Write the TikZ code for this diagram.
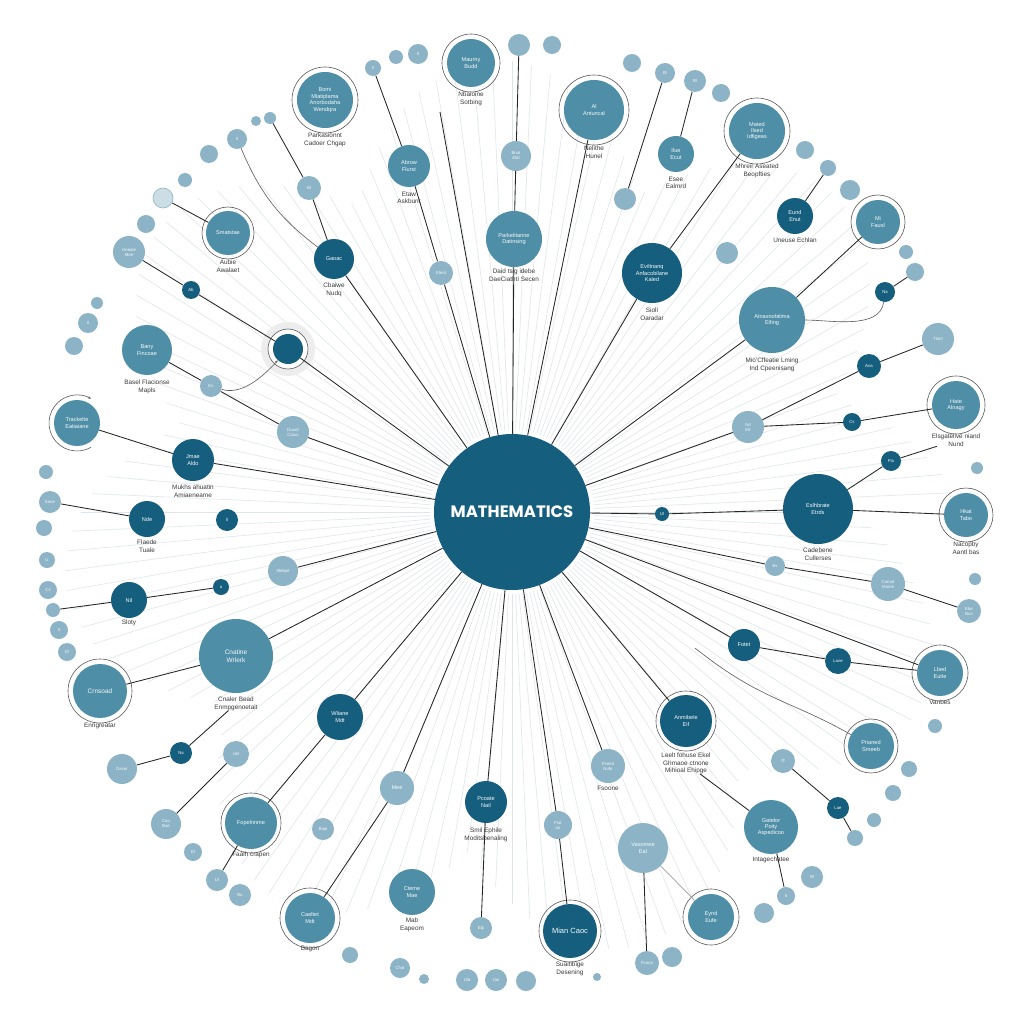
\documentclass[tikz,border=0pt]{standalone}
\usepackage{fontspec}
\setmainfont{Liberation Sans}
\newfontfamily\titlefont{Poppins}
\usetikzlibrary{arrows.meta}
\definecolor{dkc}{HTML}{165E7D}
\definecolor{mdc}{HTML}{4F8EA7}
\definecolor{ltc}{HTML}{8CB4C6}
\definecolor{labc}{HTML}{3A3A3A}
\definecolor{rayc}{HTML}{DFE6EA}
\tikzset{
  bub/.style={circle, inner sep=0pt, align=center, text=white!92!ltc, font=\fontsize{5.6}{6.4}\selectfont},
  dkn/.style={bub, fill=dkc},
  mdn/.style={bub, fill=mdc},
  ltn/.style={bub, fill=ltc},
  rad/.style={minimum size=#1*2pt},
  tinyt/.style={font=\fontsize{4.3}{5}\selectfont},
  lab/.style={font=\fontsize{6.4}{7.2}\selectfont, text=labc, align=center, inner sep=0pt, anchor=north},
  conn/.style={draw=black!85, line width=0.85pt},
  softconn/.style={draw=black!65, line width=0.6pt},
  grayconn/.style={draw=gray!75, line width=0.7pt},
  ringc/.style={draw=gray!70!black, line width=0.6pt},
  ray/.style={draw=rayc, line width=0.6pt},
}
\begin{document}
\begin{tikzpicture}[x=1pt,y=-1pt]
\useasboundingbox (0,0) rectangle (1024,1024);
\fill[white] (0,0) rectangle (1024,1024);
% background rays
\foreach \a in {0,2.5,...,357.5}
  \draw[ray] (512,512) ++(\a:82) -- ++(\a:{260+110*abs(sin(3.7*\a))});

% centre
\node[dkn, rad=78, font=\titlefont\bfseries\fontsize{16.5}{18}\selectfont, text=white] (c) at (512,512) {MATHEMATICS};

% ---- top
\node[mdn, rad=28] (a1) at (325,100) {Bomi\\Mlatiplama\\Anorbodaha\\Wendqra};
\node[lab] (la1) at (325,133) {Parkasionnt\\Cadoer Chgap};
\node[mdn, rad=24] (a2) at (471,63) {Maurny\\Budd};
\node[lab] (la2) at (471,92) {Nbaioine\\Sotbing};
\node[ltn, rad=8, tinyt] (a3) at (373,68) {Il};
\node[ltn, rad=7] (a4) at (396,57) {};
\node[ltn, rad=10, tinyt] (a5) at (418,54) {Il};
\node[ltn, rad=11] (a6) at (519,45) {};
\node[ltn, rad=9] (a7) at (552,45) {};
\node[mdn, rad=21] (a8) at (409,166) {Abrow\\Flurst};
\node[lab] (la8) at (409,192) {Etaw\\Askbunt};
\node[ltn, rad=15, tinyt] (a9) at (516,156) {Bnat\\Afat};
\node[mdn, rad=28] (a10) at (514,239) {Parkelitanne\\Datinsing};
\node[lab] (la10) at (514,269) {Daid tsig idebe\\DaeCiathti Secen};
\node[ltn, rad=12, tinyt] (a11) at (441,273) {Elmd};
\node[dkn, rad=20] (a12) at (334,259) {Gaoac};
\node[lab] (la12) at (334,283) {Cbaiwe\\Nudq};
\node[ltn, rad=12, tinyt] (a13) at (309,188) {Bl};
\node[ltn, rad=10, tinyt] (a14) at (237,139) {Il};
\node[ltn, rad=9] (a15) at (209,154) {};
\node[ltn, rad=6] (a16) at (270,118) {};
\node[ltn, rad=5] (a17) at (256,121) {};

% ---- right
\node[mdn, rad=30] (b1) at (594,110) {Al\\Antuncal};
\node[lab] (lb1) at (594,146) {Nelithe\\Hunel};
\node[ltn, rad=9] (b2) at (632,63) {};
\node[ltn, rad=10, tinyt] (b3) at (665,73) {Bl};
\node[ltn, rad=11, tinyt] (b4) at (695,81) {Bl};
\node[ltn, rad=9] (b5) at (721,93) {};
\node[mdn, rad=18] (b6) at (676,154) {Ilue\\Ecut};
\node[lab] (lb6) at (676,177) {Esee\\Ealmrd};
\node[ltn, rad=11] (b7) at (625,199) {};
\node[mdn, rad=28] (b8) at (757,131) {Mated\\Ilsed\\Idfigeas};
\node[lab] (lb8) at (757,164) {Mhreir Aseated\\Beopfties};
\node[ltn, rad=9] (b9) at (805,150) {};
\node[ltn, rad=8] (b10) at (828,168) {};
\node[ltn, rad=10] (b11) at (850,190) {};
\node[dkn, rad=18] (b12) at (795,216) {Eund\\Enut};
\node[lab] (lb12) at (795,238) {Uneuse Echlan};
\node[mdn, rad=22] (b13) at (878,222) {Mi\\Fausl};
\node[ltn, rad=11] (b14) at (727,253) {};
\node[ltn, rad=7] (b15) at (906,252) {};
\node[ltn, rad=9] (b16) at (915,272) {};
\node[dkn, rad=30] (b17) at (652,273) {Eviltnanq\\Anfacobilane\\Kaled};
\node[lab] (lb17) at (652,308) {Sioll\\Oaradar};
\node[dkn, rad=10, tinyt] (b18) at (885,292) {Na};
\node[mdn, rad=33] (b19) at (772,320) {Atnasnofalima\\Eifing};
\node[lab] (lb19) at (772,358) {Mio'Cffeatie Lming\\Ind Cpeenisang};
\node[ltn, rad=16, tinyt] (b20) at (938,339) {Tlant};
\node[dkn, rad=12, tinyt] (b21) at (869,366) {Ana};
\node[mdn, rad=24] (b22) at (956,405) {Hate\\Alnagy};
\node[lab] (lb22) at (956,434) {Elsgatelive niand\\Nund};
\node[ltn, rad=16, tinyt] (b23) at (748,427) {Nd\\Ett};
\node[dkn, rad=9, tinyt] (b24) at (852,422) {Cs};
\node[dkn, rad=10, tinyt] (b25) at (891,461) {Fta};
\node[ltn, rad=6] (b26) at (977,468) {};
\node[dkn, rad=35] (b27) at (818,509) {Eslhbrate\\Etrds};
\node[lab] (lb27) at (818,548) {Cadebene\\Cullerses};
\node[dkn, rad=7, tinyt] (b28) at (662,514) {Ul};
\node[mdn, rad=22] (b29) at (966,515) {Hkat\\Tabo};
\node[lab] (lb29) at (966,542) {Nacopby\\Aantl bas};
\node[ltn, rad=10, tinyt] (b30) at (775,566) {Es};
\node[ltn, rad=17, tinyt] (b31) at (888,584) {Canad\\Mame};
\node[ltn, rad=6] (b32) at (975,579) {};
\node[ltn, rad=12, tinyt] (b33) at (969,611) {Ebe\\Bus};
\node[dkn, rad=16] (b34) at (744,645) {Fotet};
\node[dkn, rad=13, tinyt] (b35) at (838,661) {Lane};
\node[mdn, rad=23] (b36) at (940,673) {Lbed\\Eutle};
\node[lab] (lb36) at (940,700) {Vanbes};
\node[ltn, rad=7] (b37) at (935,726) {};

% ---- bottom right
\node[dkn, rad=26] (c1) at (686,721) {Anmibele\\Eif};
\node[lab] (lc1) at (686,753) {Leelt fohuse Ekel\\Ghmaoe ctnone\\Mihioal Ehipge};
\node[mdn, rad=23] (c2) at (871,746) {Prianed\\Smeeb};
\node[ltn, rad=8] (c3) at (909,769) {};
\node[ltn, rad=12, tinyt] (c4) at (783,761) {Ifl};
\node[mdn, rad=27] (c5) at (771,827) {Gatelor\\Poity\\Aspedicoo};
\node[lab] (lc5) at (771,857) {Intagechatee};
\node[dkn, rad=11, tinyt] (c6) at (838,808) {Lae};
\node[ltn, rad=8] (c7) at (893,793) {};
\node[ltn, rad=7] (c8) at (874,820) {};
\node[ltn, rad=8] (c9) at (855,838) {};
\node[ltn, rad=11, tinyt] (c10) at (812,877) {Bl};
\node[ltn, rad=9, tinyt] (c11) at (786,896) {Il};
\node[ltn, rad=10] (c12) at (764,913) {};
\node[ltn, rad=17, tinyt] (c13) at (608,766) {Fsrind\\Nufe};
\node[lab] (lc13) at (608,786) {Fsoone};
\node[ltn, rad=25] (c14) at (643,848) {Vasomee\\Eal};
\node[mdn, rad=23] (c15) at (711,917) {Eynd\\Eufe};
\node[ltn, rad=12, tinyt] (c16) at (647,963) {Fsona};
\node[ltn, rad=10] (c17) at (672,957) {};
\node[dkn, rad=27, font=\fontsize{7.5}{8}\selectfont] (c18) at (570,931) {Mian Caoc};
\node[lab] (lc18) at (570,962) {Suaitibige\\Desening};
\node[ltn, rad=14, tinyt] (c19) at (558,825) {Fiat\\as};
\node[ltn, rad=4] (c20) at (597,977) {};
\node[dkn, rad=21] (c21) at (486,802) {Pcoate\\Nail};
\node[lab] (lc21) at (486,828) {Smil Ephile\\Moditsbenaling};
\node[ltn, rad=11, tinyt] (c22) at (481,928) {Elp};
\node[ltn, rad=11, tinyt] (c23) at (467,980) {Ula};
\node[ltn, rad=11, tinyt] (c24) at (496,980) {Uai};
\node[ltn, rad=10] (c25) at (526,981) {};
\node[ltn, rad=17] (c26) at (397,788) {Mee};
\node[mdn, rad=23] (c27) at (412,892) {Cteme\\Mae};
\node[lab] (lc27) at (412,918) {Mab\\Eapeom};
\node[ltn, rad=10, tinyt] (c28) at (400,968) {Chal};
\node[ltn, rad=5] (c29) at (424,979) {};
\node[ltn, rad=8] (c30) at (350,955) {};
\node[mdn, rad=25] (c31) at (310,918) {Caeltet\\Mdt};
\node[lab] (lc31) at (310,946) {Bagon};
\node[ltn, rad=11, tinyt] (c32) at (323,829) {Baje};

% ---- left
\node[dkn, rad=23] (d1) at (340,717) {Wliane\\Mdt};
\node[mdn, rad=26] (d2) at (251,823) {Fopelnnme};
\node[lab] (ld2) at (251,852) {Faalh crapen};
\node[ltn, rad=13, tinyt] (d3) at (236,754) {Uel};
\node[dkn, rad=11, tinyt] (d4) at (181,753) {Na};
\node[ltn, rad=15, tinyt] (d5) at (122,769) {Dacer};
\node[ltn, rad=15, tinyt] (d6) at (166,824) {Cau\\Bae};
\node[ltn, rad=9, tinyt] (d7) at (193,852) {El};
\node[ltn, rad=11, tinyt] (d8) at (217,880) {Ul};
\node[ltn, rad=11, tinyt] (d9) at (240,895) {Bu};
\node[mdn, rad=37, font=\fontsize{6.5}{7.5}\selectfont] (d10) at (236,656) {Cnatine\\Wrlerk};
\node[lab] (ld10) at (236,697) {Cnaler Bead\\Enmpgenoetait};
\node[mdn, rad=27, font=\fontsize{6.5}{7.5}\selectfont] (d11) at (100,691) {Crnsoad};
\node[lab] (ld11) at (100,723) {Enngreatar};
\node[dkn, rad=18] (d12) at (129,600) {Nil};
\node[lab] (ld12) at (129,620) {Sloty};
\node[ltn, rad=9, tinyt] (d13) at (48,590) {Cil};
\node[ltn, rad=7] (d14) at (53,610) {};
\node[ltn, rad=9, tinyt] (d15) at (59,630) {Il};
\node[ltn, rad=9, tinyt] (d16) at (67,652) {El};
\node[dkn, rad=8, tinyt] (d17) at (221,587) {a};
\node[ltn, rad=15, tinyt] (d18) at (283,571) {Mebye};
\node[dkn, rad=18] (d19) at (147,519) {Nde};
\node[lab] (ld19) at (147,540) {Flaede\\Tuale};
\node[dkn, rad=11, tinyt] (d20) at (227,520) {Il};
\node[ltn, rad=7] (d21) at (46,472) {};
\node[ltn, rad=11, tinyt] (d22) at (50,502) {Sane};
\node[ltn, rad=8] (d23) at (44,528) {};
\node[ltn, rad=8, tinyt] (d24) at (47,560) {U};
\node[dkn, rad=21] (d25) at (193,460) {Jmae\\Aldo};
\node[lab] (ld25) at (193,485) {Mukhs ahuatin\\Amiaeneame};
\node[mdn, rad=23] (d26) at (77,423) {Trackelte\\Eatiaiane};
\node[ltn, rad=16, tinyt] (d27) at (293,432) {Duard\\Catus};
\node[ltn, rad=11, tinyt] (d28) at (211,386) {Es};
\node[mdn, rad=25] (d29) at (147,350) {Bany\\Fincoae};
\node[lab] (ld29) at (147,380) {Basel Flacionse\\Mapls};
\fill[gray!14] (288,349) circle[radius=27];
\filldraw[fill=white, ringc] (288,349) circle[radius=20];
\node[dkn, rad=15] (d30) at (288,349) {};
\node[ltn, rad=9] (d31) at (74,346) {};
\node[ltn, rad=10, tinyt] (d32) at (88,323) {Il};
\node[ltn, rad=6] (d33) at (97,303) {};
\node[dkn, rad=9, tinyt] (d34) at (191,290) {Ab};
\node[ltn, rad=16, tinyt] (d35) at (129,252) {Geeale\\Moe};
\node[mdn, rad=22] (d36) at (228,233) {Smatstae};
\node[lab] (ld36) at (228,260) {Aubie\\Awalaet};
\node[ltn, rad=9] (d37) at (146,224) {};
\node[ltn, rad=10, fill=ltc!45, draw=ltc, line width=0.6pt] (d38) at (163,198) {};
\node[ltn, rad=7] (d39) at (185,180) {};

% rings
\foreach \n/\r in {a1/33,a2/29,b1/35,b8/33,b13/27,b22/29,b29/27,b36/28,c1/30,c2/27,c15/28,c18/31,c31/30,d2/30,d11/32,d36/26}
  \draw[ringc] (\n.center) circle[radius=\r];
\draw[ringc, -{Stealth[length=3pt]}] (d26.center) ++(60:28) arc (60:300:28);

% connectors
\coordinate (t1) at (440,112);
\coordinate (w1) at (695,648);
\draw[conn] (c) -- (a10);
\draw[conn] (a10) -- (a9);
\draw[conn] (a9) -- (a6);
\draw[conn] (c) -- (a11);
\draw[conn] (a11) -- (a8);
\draw[conn] (a8) -- (a3);
\draw[conn] (c) -- (t1);
\draw[conn] (c) -- (a12);
\draw[conn] (a12) -- (a13);
\draw[conn] (a13) -- (a16);
\draw[softconn] (a14) to[bend right=15] (a12);
\draw[conn] (c) -- (b1);
\draw[conn] (b7) -- (b3);
\draw[conn] (b6) -- (b4);
\draw[conn] (c) -- (b17);
\draw[conn] (b17) -- (b8);
\draw[conn] (b12) -- (b10);
\draw[conn] (c) -- (b19);
\draw[conn] (b19) -- (b13);
\draw[softconn] (b18) .. controls (880,330) and (830,320) .. (b19);
\draw[conn] (b18) -- (b16);
\draw[conn] (c) -- (b23);
\draw[conn] (b23) -- (b21);
\draw[conn] (b21) -- (b20);
\draw[conn] (b23) -- (b24);
\draw[conn] (b24) -- (b22);
\draw[conn] (c) -- (b28);
\draw[conn] (b28) -- (b27);
\draw[conn] (b27) -- (b29);
\draw[conn] (b27) -- (b25);
\draw[conn] (b25) -- (lb22);
\draw[conn] (c) -- (b30);
\draw[conn] (b30) -- (b31);
\draw[conn] (b31) -- (b33);
\draw[conn] (c) -- (b34);
\draw[conn] (b34) -- (b35);
\draw[conn] (b35) -- (b36);
\draw[conn] (c) -- (b36);
\draw[softconn] (w1) .. controls (760,700) and (790,700) .. (c2);
\draw[conn] (c) -- (c1);
\draw[conn] (lc1) -- (c5);
\draw[conn] (c4) -- (c6);
\draw[conn] (c6) -- (c9);
\draw[conn] (c5) -- (c11);
\draw[grayconn] (c14) -- (c15);
\draw[conn] (c14) -- (c16);
\draw[conn] (c) -- (c13);
\draw[conn] (c) -- (c19);
\draw[conn] (c19) -- (c18);
\draw[conn] (c) -- (c21);
\draw[conn] (c21) -- (c22);
\draw[conn] (c) -- (c26);
\draw[conn] (c26) -- (c31);
\draw[conn] (c) -- (d1);
\draw[conn] (d1) -- (d2);
\draw[conn] (d2) -- (d8);
\draw[conn] (d6) -- (d3);
\draw[conn] (d5) -- (d4);
\draw[conn] (d4) -- (ld10);
\draw[conn] (c) -- (d10);
\draw[conn] (d10) -- (d11);
\draw[conn] (c) -- (d18);
\draw[conn] (d12) -- (d17);
\draw[conn] (d14) -- (d12);
\draw[conn] (d22) -- (d19);
\draw[conn] (c) -- (d25);
\draw[conn] (d25) -- (d26);
\draw[conn] (c) -- (d27);
\draw[conn] (d27) -- (d28);
\draw[conn] (d28) -- (d29);
\draw[softconn, -{Stealth[length=3pt]}] (d28) .. controls (240,395) and (260,380) .. (d30);
\draw[conn] (c) -- (d30);
\draw[conn] (d30) -- (d34);
\draw[conn] (d34) -- (d35);
\draw[conn] (d38) -- (d36);
\end{tikzpicture}
\end{document}
